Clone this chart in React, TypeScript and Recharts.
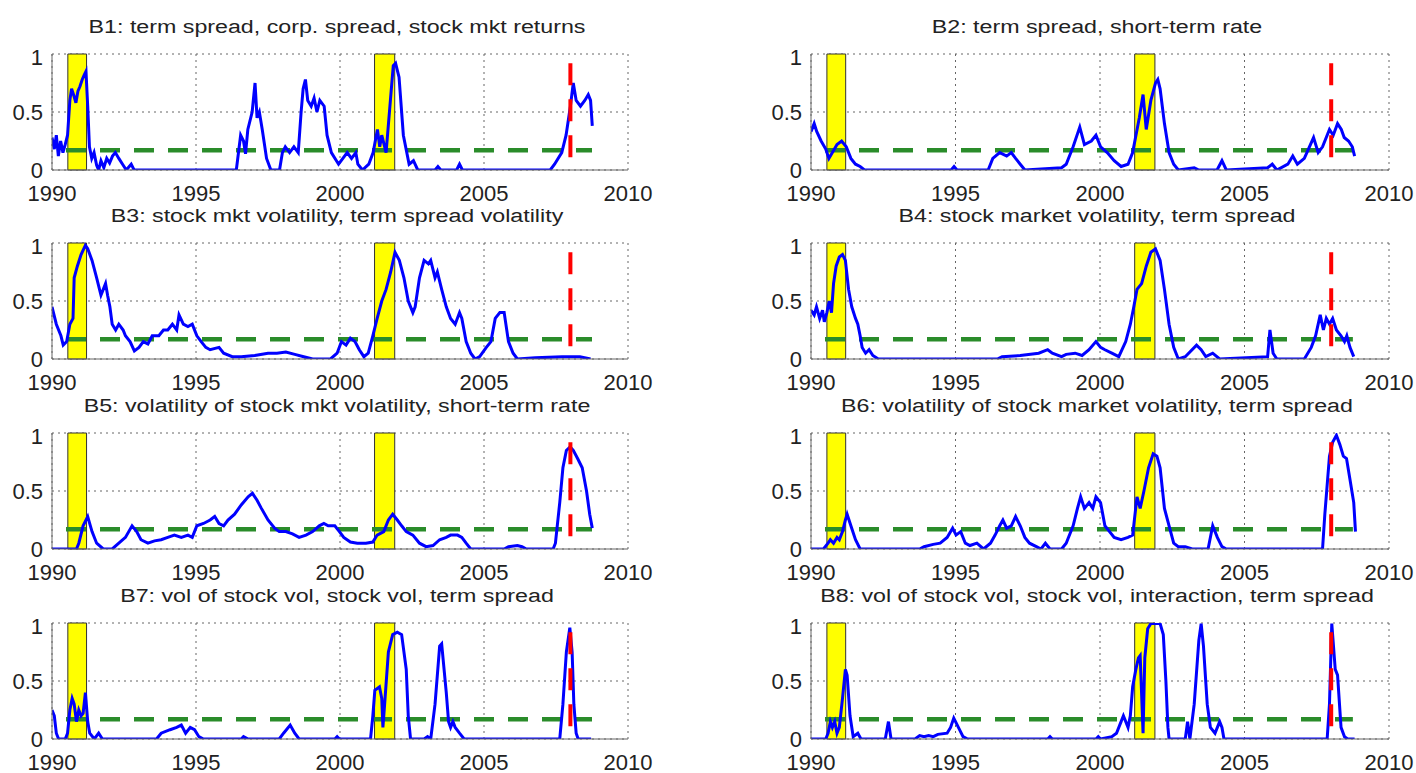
import React from "react";
import { LineChart, Line, XAxis, YAxis, CartesianGrid, ReferenceArea } from "recharts";

type Pt = [number, number];

const YEAR_TICKS = [1990, 1995, 2000, 2005, 2010];
const PROB_TICKS = [0, 0.5, 1];
const RECESSIONS: Pt[] = [
  [1990.55, 1991.2],
  [2001.2, 2001.9],
];
const THRESHOLD = 0.17;
const SAMPLE_START = 1990;
const SAMPLE_END = 2008.75;
const FORECAST_DATE = 2008.0;
const MARKER_RANGE: Pt = [0.11, 0.94];

const TITLES = [
  "B1: term spread, corp. spread, stock mkt returns",
  "B2: term spread, short-term rate",
  "B3: stock mkt volatility, term spread volatility",
  "B4: stock market volatility, term spread",
  "B5: volatility of stock mkt volatility, short-term rate",
  "B6: volatility of stock market volatility, term spread",
  "B7: vol of stock vol, stock vol, term spread",
  "B8: vol of stock vol, stock vol, interaction, term spread",
];

// recession probabilities, [year, prob]
const b1: Pt[] = [
  [1990.0, 0.28], [1990.08, 0.18], [1990.15, 0.3], [1990.22, 0.12], [1990.3, 0.25], [1990.38, 0.15],
  [1990.46, 0.22], [1990.54, 0.3], [1990.62, 0.6], [1990.68, 0.7], [1990.76, 0.64], [1990.83, 0.58],
  [1990.9, 0.68], [1990.97, 0.72], [1991.05, 0.78], [1991.12, 0.82], [1991.18, 0.85], [1991.24, 0.55],
  [1991.3, 0.2], [1991.38, 0.1], [1991.46, 0.15], [1991.55, 0.04], [1991.62, 0.0], [1991.7, 0.08],
  [1991.8, 0.02], [1991.9, 0.1], [1992.0, 0.06], [1992.1, 0.12], [1992.2, 0.15], [1992.32, 0.1],
  [1992.45, 0.05], [1992.58, 0.0], [1992.75, 0.05], [1992.85, 0.0], [1996.4, 0.0], [1996.55, 0.3],
  [1996.65, 0.25], [1996.72, 0.14], [1996.8, 0.35], [1996.95, 0.5], [1997.05, 0.75], [1997.12, 0.45],
  [1997.2, 0.5], [1997.3, 0.35], [1997.45, 0.1], [1997.6, 0.0], [1997.9, 0.0], [1998.0, 0.15],
  [1998.1, 0.2], [1998.25, 0.15], [1998.4, 0.2], [1998.55, 0.15], [1998.65, 0.5], [1998.72, 0.7],
  [1998.8, 0.78], [1998.88, 0.6], [1999.0, 0.55], [1999.1, 0.62], [1999.2, 0.5], [1999.3, 0.6],
  [1999.45, 0.55], [1999.55, 0.3], [1999.7, 0.15], [1999.95, 0.05], [2000.1, 0.1], [2000.25, 0.15],
  [2000.4, 0.1], [2000.55, 0.15], [2000.62, 0.05], [2000.78, 0.0], [2001.0, 0.05], [2001.15, 0.15],
  [2001.3, 0.35], [2001.38, 0.2], [2001.45, 0.3], [2001.6, 0.15], [2001.75, 0.6], [2001.85, 0.9],
  [2001.93, 0.92], [2002.05, 0.8], [2002.2, 0.3], [2002.4, 0.05], [2002.55, 0.08], [2002.7, 0.0],
  [2003.3, 0.0], [2003.4, 0.03], [2003.5, 0.0], [2004.05, 0.0], [2004.15, 0.05], [2004.25, 0.0],
  [2007.3, 0.0], [2007.45, 0.05], [2007.7, 0.15], [2007.85, 0.3], [2008.0, 0.55], [2008.1, 0.75],
  [2008.2, 0.6], [2008.35, 0.55], [2008.5, 0.6], [2008.62, 0.65], [2008.7, 0.6], [2008.76, 0.38],
];

const b2: Pt[] = [
  [1990.0, 0.33], [1990.11, 0.4], [1990.2, 0.33], [1990.35, 0.25], [1990.51, 0.18], [1990.62, 0.1],
  [1990.74, 0.15], [1990.9, 0.22], [1991.06, 0.25], [1991.22, 0.2], [1991.38, 0.1], [1991.54, 0.05],
  [1991.7, 0.03], [1991.85, 0.0], [1994.85, 0.0], [1994.95, 0.03], [1995.05, 0.0], [1996.13, 0.0],
  [1996.29, 0.1], [1996.53, 0.15], [1996.77, 0.12], [1996.93, 0.15], [1997.08, 0.1], [1997.24, 0.05],
  [1997.4, 0.0], [1998.67, 0.02], [1998.83, 0.05], [1999.07, 0.2], [1999.3, 0.37], [1999.46, 0.22],
  [1999.7, 0.25], [1999.86, 0.3], [2000.02, 0.2], [2000.25, 0.15], [2000.49, 0.08], [2000.73, 0.03],
  [2000.97, 0.05], [2001.13, 0.15], [2001.36, 0.45], [2001.49, 0.65], [2001.6, 0.35], [2001.76, 0.6],
  [2001.92, 0.75], [2002.0, 0.78], [2002.08, 0.7], [2002.23, 0.4], [2002.39, 0.15], [2002.55, 0.05],
  [2002.71, 0.0], [2003.26, 0.02], [2003.42, 0.0], [2004.05, 0.0], [2004.22, 0.08], [2004.37, 0.0],
  [2005.8, 0.02], [2005.96, 0.05], [2006.12, 0.0], [2006.5, 0.05], [2006.67, 0.12], [2006.83, 0.05],
  [2007.07, 0.1], [2007.39, 0.28], [2007.55, 0.15], [2007.7, 0.2], [2007.94, 0.35], [2008.07, 0.3],
  [2008.22, 0.4], [2008.35, 0.35], [2008.45, 0.28], [2008.6, 0.25], [2008.73, 0.2], [2008.81, 0.12],
];

const b3: Pt[] = [
  [1990.0, 0.45], [1990.15, 0.3], [1990.31, 0.2], [1990.39, 0.12], [1990.51, 0.15], [1990.62, 0.3],
  [1990.73, 0.35], [1990.77, 0.7], [1990.88, 0.8], [1991.01, 0.9], [1991.16, 0.98], [1991.24, 0.95],
  [1991.39, 0.85], [1991.55, 0.7], [1991.7, 0.55], [1991.78, 0.6], [1991.86, 0.65], [1991.93, 0.55],
  [1992.01, 0.45], [1992.09, 0.3], [1992.21, 0.25], [1992.32, 0.3], [1992.47, 0.25], [1992.55, 0.2],
  [1992.71, 0.15], [1992.86, 0.07], [1993.02, 0.1], [1993.17, 0.15], [1993.33, 0.13], [1993.48, 0.2],
  [1993.71, 0.2], [1993.87, 0.25], [1994.02, 0.25], [1994.18, 0.3], [1994.33, 0.25], [1994.41, 0.38],
  [1994.56, 0.3], [1994.72, 0.28], [1994.87, 0.3], [1995.03, 0.2], [1995.18, 0.15], [1995.34, 0.1],
  [1995.49, 0.08], [1995.8, 0.1], [1995.96, 0.05], [1996.26, 0.02], [1996.57, 0.02], [1997.04, 0.03],
  [1997.5, 0.05], [1997.81, 0.05], [1998.12, 0.06], [1998.43, 0.04], [1998.74, 0.02], [1999.05, 0.0],
  [1999.67, 0.0], [1999.9, 0.05], [2000.05, 0.15], [2000.21, 0.12], [2000.36, 0.18], [2000.52, 0.15],
  [2000.67, 0.08], [2000.83, 0.02], [2000.98, 0.05], [2001.14, 0.2], [2001.29, 0.35], [2001.45, 0.5],
  [2001.6, 0.6], [2001.76, 0.75], [2001.91, 0.92], [2002.06, 0.85], [2002.22, 0.7], [2002.37, 0.5],
  [2002.53, 0.4], [2002.61, 0.45], [2002.76, 0.7], [2002.92, 0.85], [2003.07, 0.82], [2003.15, 0.85],
  [2003.3, 0.7], [2003.38, 0.75], [2003.53, 0.6], [2003.69, 0.45], [2003.84, 0.35], [2004.0, 0.3],
  [2004.15, 0.4], [2004.23, 0.35], [2004.38, 0.15], [2004.54, 0.05], [2004.69, 0.0], [2004.85, 0.02],
  [2005.08, 0.1], [2005.24, 0.15], [2005.39, 0.35], [2005.55, 0.4], [2005.7, 0.4], [2005.85, 0.15],
  [2006.01, 0.05], [2006.16, 0.0], [2006.78, 0.01], [2007.71, 0.02], [2008.33, 0.02], [2008.7, 0.0],
];

const b4: Pt[] = [
  [1990.0, 0.42], [1990.11, 0.38], [1990.19, 0.45], [1990.3, 0.35], [1990.4, 0.42], [1990.46, 0.32],
  [1990.55, 0.4], [1990.63, 0.5], [1990.71, 0.4], [1990.78, 0.65], [1990.87, 0.8], [1990.98, 0.88],
  [1991.09, 0.9], [1991.19, 0.85], [1991.3, 0.6], [1991.41, 0.45], [1991.54, 0.35], [1991.62, 0.3],
  [1991.7, 0.2], [1991.77, 0.1], [1991.89, 0.05], [1992.01, 0.08], [1992.14, 0.03], [1992.33, 0.0],
  [1996.45, 0.0], [1996.61, 0.02], [1997.24, 0.03], [1997.88, 0.05], [1998.19, 0.08], [1998.35, 0.05],
  [1998.67, 0.02], [1998.83, 0.04], [1999.14, 0.05], [1999.38, 0.03], [1999.62, 0.08], [1999.86, 0.15],
  [2000.02, 0.1], [2000.17, 0.08], [2000.41, 0.05], [2000.65, 0.02], [2000.89, 0.15], [2001.05, 0.3],
  [2001.17, 0.45], [2001.28, 0.6], [2001.44, 0.65], [2001.6, 0.8], [2001.76, 0.92], [2001.92, 0.95],
  [2002.08, 0.85], [2002.23, 0.6], [2002.39, 0.3], [2002.55, 0.1], [2002.71, 0.0], [2002.95, 0.02],
  [2003.34, 0.12], [2003.5, 0.08], [2003.66, 0.02], [2003.9, 0.05], [2004.14, 0.0], [2005.8, 0.02],
  [2005.88, 0.25], [2005.99, 0.05], [2006.12, 0.0], [2007.07, 0.0], [2007.31, 0.1], [2007.46, 0.2],
  [2007.62, 0.38], [2007.73, 0.25], [2007.83, 0.35], [2007.94, 0.3], [2008.05, 0.35], [2008.18, 0.25],
  [2008.34, 0.2], [2008.46, 0.15], [2008.54, 0.2], [2008.65, 0.1], [2008.78, 0.02],
];

const b5: Pt[] = [
  [1990.0, 0.0], [1990.85, 0.0], [1990.93, 0.05], [1991.08, 0.2], [1991.24, 0.28], [1991.39, 0.15],
  [1991.55, 0.05], [1991.78, 0.0], [1992.09, 0.0], [1992.32, 0.05], [1992.55, 0.1], [1992.78, 0.2],
  [1992.94, 0.15], [1993.09, 0.08], [1993.33, 0.05], [1993.56, 0.07], [1993.79, 0.08], [1994.02, 0.1],
  [1994.25, 0.12], [1994.49, 0.1], [1994.72, 0.12], [1994.87, 0.1], [1995.03, 0.2], [1995.26, 0.22],
  [1995.49, 0.25], [1995.65, 0.28], [1995.8, 0.22], [1995.96, 0.2], [1996.11, 0.25], [1996.34, 0.3],
  [1996.57, 0.38], [1996.81, 0.45], [1996.96, 0.48], [1997.12, 0.42], [1997.27, 0.35], [1997.5, 0.25],
  [1997.73, 0.18], [1997.89, 0.15], [1998.12, 0.15], [1998.35, 0.13], [1998.58, 0.1], [1998.82, 0.12],
  [1999.05, 0.15], [1999.28, 0.2], [1999.44, 0.22], [1999.59, 0.2], [1999.82, 0.2], [1999.98, 0.15],
  [2000.13, 0.1], [2000.36, 0.06], [2000.6, 0.05], [2000.9, 0.05], [2001.14, 0.06], [2001.29, 0.12],
  [2001.52, 0.15], [2001.68, 0.25], [2001.83, 0.3], [2001.99, 0.25], [2002.14, 0.2], [2002.3, 0.15],
  [2002.53, 0.12], [2002.76, 0.05], [2002.99, 0.02], [2003.23, 0.03], [2003.46, 0.08], [2003.69, 0.1],
  [2003.84, 0.12], [2004.08, 0.12], [2004.23, 0.1], [2004.38, 0.05], [2004.54, 0.0], [2005.7, 0.0],
  [2005.85, 0.02], [2006.16, 0.03], [2006.32, 0.02], [2006.47, 0.0], [2007.4, 0.0], [2007.48, 0.05],
  [2007.63, 0.4], [2007.74, 0.7], [2007.86, 0.85], [2007.99, 0.88], [2008.1, 0.85], [2008.25, 0.78],
  [2008.41, 0.7], [2008.56, 0.5], [2008.67, 0.3], [2008.76, 0.18],
];

const b6: Pt[] = [
  [1990.0, 0.0], [1990.43, 0.0], [1990.59, 0.05], [1990.67, 0.08], [1990.78, 0.05], [1990.9, 0.1],
  [1990.98, 0.08], [1991.09, 0.15], [1991.19, 0.25], [1991.25, 0.3], [1991.38, 0.2], [1991.54, 0.08],
  [1991.7, 0.0], [1993.76, 0.0], [1993.91, 0.02], [1994.23, 0.04], [1994.47, 0.05], [1994.71, 0.1],
  [1994.9, 0.18], [1995.02, 0.12], [1995.18, 0.15], [1995.34, 0.05], [1995.5, 0.03], [1995.74, 0.05],
  [1995.97, 0.0], [1996.21, 0.05], [1996.37, 0.12], [1996.53, 0.2], [1996.64, 0.25], [1996.77, 0.18],
  [1996.93, 0.2], [1997.08, 0.28], [1997.24, 0.2], [1997.4, 0.1], [1997.56, 0.05], [1997.8, 0.02],
  [1997.96, 0.0], [1998.11, 0.05], [1998.27, 0.0], [1998.67, 0.0], [1998.83, 0.05], [1999.07, 0.2],
  [1999.22, 0.35], [1999.33, 0.45], [1999.46, 0.35], [1999.62, 0.4], [1999.75, 0.35], [1999.86, 0.45],
  [2000.02, 0.4], [2000.17, 0.2], [2000.33, 0.15], [2000.49, 0.1], [2000.73, 0.08], [2000.97, 0.1],
  [2001.13, 0.12], [2001.28, 0.45], [2001.39, 0.35], [2001.52, 0.5], [2001.68, 0.7], [2001.84, 0.82],
  [2001.97, 0.8], [2002.08, 0.7], [2002.23, 0.35], [2002.39, 0.2], [2002.55, 0.05], [2002.71, 0.02],
  [2002.95, 0.02], [2003.19, 0.0], [2003.74, 0.0], [2003.9, 0.2], [2004.06, 0.1], [2004.22, 0.02],
  [2004.37, 0.0], [2007.7, 0.0], [2007.78, 0.3], [2007.94, 0.8], [2008.05, 0.92], [2008.18, 0.98],
  [2008.3, 0.9], [2008.42, 0.8], [2008.53, 0.78], [2008.65, 0.6], [2008.78, 0.4], [2008.84, 0.15],
];

const b7: Pt[] = [
  [1990.0, 0.25], [1990.08, 0.2], [1990.15, 0.05], [1990.23, 0.0], [1990.46, 0.0], [1990.54, 0.05],
  [1990.62, 0.25], [1990.7, 0.35], [1990.77, 0.3], [1990.85, 0.15], [1990.93, 0.25], [1991.01, 0.2],
  [1991.08, 0.22], [1991.16, 0.4], [1991.24, 0.15], [1991.31, 0.05], [1991.47, 0.0], [1991.62, 0.05],
  [1991.75, 0.0], [1993.63, 0.0], [1993.79, 0.05], [1994.1, 0.08], [1994.33, 0.1], [1994.49, 0.12],
  [1994.64, 0.05], [1994.8, 0.1], [1994.95, 0.08], [1995.1, 0.02], [1995.26, 0.0], [1996.57, 0.0],
  [1996.65, 0.02], [1996.81, 0.0], [1997.89, 0.0], [1998.04, 0.05], [1998.27, 0.12], [1998.43, 0.05],
  [1998.58, 0.0], [1999.82, 0.0], [1999.9, 0.02], [1999.98, 0.0], [2001.06, 0.0], [2001.14, 0.2],
  [2001.21, 0.42], [2001.37, 0.45], [2001.45, 0.35], [2001.49, 0.1], [2001.55, 0.3], [2001.68, 0.75],
  [2001.83, 0.9], [2001.99, 0.92], [2002.14, 0.9], [2002.3, 0.6], [2002.37, 0.2], [2002.45, 0.0],
  [2002.92, 0.0], [2003.04, 0.02], [2003.15, 0.0], [2003.3, 0.3], [2003.46, 0.8], [2003.53, 0.82],
  [2003.69, 0.4], [2003.77, 0.15], [2003.84, 0.1], [2003.92, 0.15], [2004.0, 0.1], [2004.15, 0.05],
  [2004.31, 0.0], [2007.63, 0.0], [2007.74, 0.3], [2007.86, 0.75], [2007.98, 0.96], [2008.06, 0.75],
  [2008.12, 0.3], [2008.2, 0.05], [2008.27, 0.0], [2008.72, 0.0],
];

const b8: Pt[] = [
  [1990.0, 0.0], [1990.51, 0.0], [1990.59, 0.05], [1990.67, 0.15], [1990.74, 0.1], [1990.82, 0.15],
  [1990.9, 0.05], [1990.98, 0.1], [1991.09, 0.35], [1991.19, 0.6], [1991.25, 0.55], [1991.35, 0.2],
  [1991.46, 0.02], [1991.62, 0.05], [1991.73, 0.0], [1992.57, 0.0], [1992.68, 0.15], [1992.77, 0.0],
  [1993.6, 0.0], [1993.76, 0.03], [1993.91, 0.02], [1994.07, 0.03], [1994.23, 0.02], [1994.39, 0.04],
  [1994.71, 0.05], [1994.83, 0.1], [1994.94, 0.18], [1995.1, 0.1], [1995.26, 0.02], [1995.42, 0.0],
  [1998.19, 0.0], [1998.27, 0.02], [1998.35, 0.0], [1999.86, 0.0], [1999.94, 0.02], [2000.02, 0.0],
  [2000.41, 0.02], [2000.57, 0.05], [2000.73, 0.15], [2000.81, 0.2], [2000.97, 0.1], [2001.05, 0.2],
  [2001.13, 0.45], [2001.24, 0.6], [2001.33, 0.7], [2001.39, 0.72], [2001.49, 0.05], [2001.55, 0.7],
  [2001.65, 0.95], [2001.76, 0.995], [2002.08, 0.995], [2002.19, 0.9], [2002.28, 0.5], [2002.35, 0.1],
  [2002.39, 0.0], [2002.95, 0.0], [2003.03, 0.15], [2003.11, 0.0], [2003.26, 0.3], [2003.42, 0.85],
  [2003.5, 0.995], [2003.58, 0.8], [2003.71, 0.3], [2003.82, 0.1], [2003.98, 0.05], [2004.14, 0.15],
  [2004.22, 0.1], [2004.29, 0.0], [2007.86, 0.0], [2007.94, 0.3], [2008.02, 0.995], [2008.14, 0.6],
  [2008.22, 0.55], [2008.34, 0.1], [2008.46, 0.02], [2008.57, 0.0], [2008.81, 0.0],
];

const SERIES = [b1, b2, b3, b4, b5, b6, b7, b8];

// plot-area geometry of the 4x2 grid
const COLS = [
  { x: 52, w: 576 },
  { x: 811, w: 578 },
];
const ROW_TOPS = [54, 243, 433, 623];
const PLOT_H = 116;
const Y_AXIS_W = 52;
const M_TOP = 10;
const M_RIGHT = 27;
const X_AXIS_H = 40;

const FONT = '"Liberation Sans", Arial, Helvetica, sans-serif';
const TICK_STYLE = { fontSize: 22, fill: "#222", fontFamily: FONT };

const toXY = (pts: Pt[]) => pts.map(([x, y]) => ({ x, y }));

function Panel({ title, series, left, top, plotW }: { title: string; series: Pt[]; left: number; top: number; plotW: number }) {
  const threshold = toXY([
    [SAMPLE_START, THRESHOLD],
    [SAMPLE_END, THRESHOLD],
  ]);
  const marker = toXY([
    [FORECAST_DATE, MARKER_RANGE[0]],
    [FORECAST_DATE, MARKER_RANGE[1]],
  ]);

  return (
    <>
      <div
        style={{
          position: "absolute",
          left: left + plotW / 2 - 3,
          top: top - 37,
          transform: "translateX(-50%) scaleX(1.29)",
          fontSize: 18,
          lineHeight: "20px",
          whiteSpace: "nowrap",
          color: "#222",
          fontFamily: FONT,
        }}
      >
        {title}
      </div>
      <div style={{ position: "absolute", left: left - Y_AXIS_W, top: top - M_TOP }}>
        <LineChart
          width={Y_AXIS_W + plotW + M_RIGHT}
          height={M_TOP + PLOT_H + X_AXIS_H}
          margin={{ top: M_TOP, right: M_RIGHT, bottom: 0, left: 0 }}
        >
          <CartesianGrid stroke="#666" strokeDasharray="2 4" />
          <XAxis
            type="number"
            dataKey="x"
            domain={[1990, 2010]}
            ticks={YEAR_TICKS}
            allowDataOverflow
            height={X_AXIS_H}
            tickSize={0}
            tickMargin={15}
            tick={TICK_STYLE}
            axisLine={{ stroke: "#666" }}
          />
          <YAxis
            type="number"
            dataKey="y"
            domain={[0, 1]}
            ticks={PROB_TICKS}
            allowDataOverflow
            width={Y_AXIS_W}
            tickSize={0}
            tickMargin={9}
            tick={TICK_STYLE}
            axisLine={{ stroke: "#666" }}
          />
          {RECESSIONS.map(([a, b]) => (
            <ReferenceArea key={a} x1={a} x2={b} fill="#ffff00" fillOpacity={1} stroke="#333" strokeWidth={1} />
          ))}
          <Line
            data={threshold}
            dataKey="y"
            stroke="#2a8c2a"
            strokeWidth={4.5}
            strokeDasharray="20 14"
            strokeDashoffset={20}
            dot={false}
            activeDot={false}
            isAnimationActive={false}
          />
          <Line
            data={toXY(series)}
            dataKey="y"
            stroke="#0000ff"
            strokeWidth={3}
            dot={false}
            activeDot={false}
            isAnimationActive={false}
          />
          <Line
            data={marker}
            dataKey="y"
            stroke="#ff0000"
            strokeWidth={4}
            strokeDasharray="22 14"
            dot={false}
            activeDot={false}
            isAnimationActive={false}
          />
        </LineChart>
      </div>
    </>
  );
}

export default function App() {
  return (
    <div
      style={{
        position: "absolute",
        left: 0,
        top: 0,
        width: 1416,
        height: 773,
        background: "#fff",
        fontFamily: FONT,
      }}
    >
      {SERIES.map((series, i) => {
        const col = COLS[i % 2];
        return (
          <Panel
            key={TITLES[i]}
            title={TITLES[i]}
            series={series}
            left={col.x}
            top={ROW_TOPS[Math.floor(i / 2)]}
            plotW={col.w}
          />
        );
      })}
    </div>
  );
}
